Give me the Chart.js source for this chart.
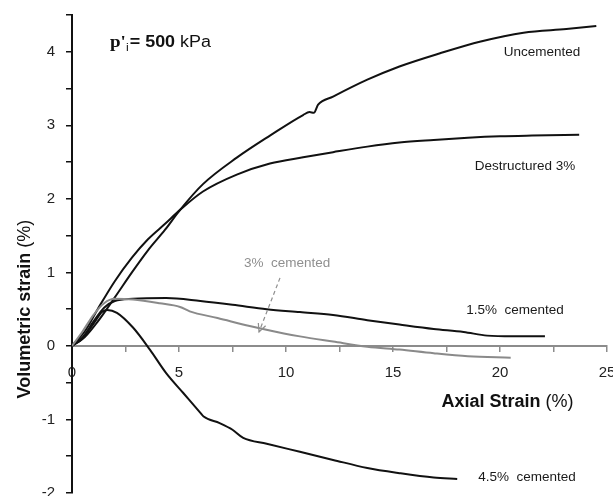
<!DOCTYPE html>
<html>
<head>
<meta charset="utf-8">
<script src="https://cdn.jsdelivr.net/npm/chart.js@4/dist/chart.umd.min.js"></script>
<style>
  html, body { margin: 0; padding: 0; background: #fff; }
  canvas { display: block; }
</style>
</head>
<body>
<canvas id="chart" width="613" height="496"></canvas>
<script>
// Volumetric strain vs axial strain, p'i = 500 kPa
const axialUncemented = [0, 0.6, 1.2, 2.0, 2.8, 3.55, 4.35, 5.05, 6.12, 7.7, 9.25, 10.8, 11.1, 11.3, 11.5, 12.2, 13.8, 15.3, 17.2, 19.1, 21.1, 23.1, 24.5];
const volUncemented   = [0, 0.12, 0.33, 0.66, 1.0, 1.3, 1.58, 1.85, 2.20, 2.56, 2.86, 3.14, 3.18, 3.17, 3.28, 3.39, 3.62, 3.80, 3.98, 4.14, 4.26, 4.31, 4.35];

const axialDestructured = [0, 0.6, 1.2, 2.0, 2.8, 3.55, 4.35, 5.05, 6.12, 7.7, 9.25, 10.8, 12.2, 13.8, 15.3, 16.9, 18.5, 20.0, 21.5, 23.7];
const volDestructured   = [0, 0.2, 0.5, 0.88, 1.2, 1.45, 1.66, 1.85, 2.10, 2.33, 2.48, 2.565, 2.635, 2.71, 2.765, 2.80, 2.83, 2.85, 2.86, 2.87];

const axialCem15 = [0, 0.5, 1.0, 1.5, 2.0, 2.85, 4.4, 6.0, 7.5, 9.1, 10.65, 12.2, 13.8, 15.3, 16.9, 18.3, 19.4, 20.6, 22.1];
const volCem15   = [0, 0.12, 0.33, 0.52, 0.61, 0.64, 0.65, 0.61, 0.56, 0.50, 0.46, 0.42, 0.35, 0.29, 0.23, 0.19, 0.14, 0.13, 0.13];

const axialCem3 = [0, 0.5, 1.0, 1.5, 2.0, 2.85, 4.1, 5.05, 5.5, 6.8, 8.3, 9.9, 10.65, 12.2, 13.8, 15.3, 16.9, 18.5, 20.5];
const volCem3   = [0, 0.2, 0.42, 0.58, 0.64, 0.63, 0.58, 0.53, 0.47, 0.38, 0.27, 0.17, 0.13, 0.06, -0.01, -0.05, -0.10, -0.14, -0.16];

const axialCem45 = [0, 0.5, 1.0, 1.4, 1.65, 2.1, 2.85, 3.64, 4.4, 5.2, 6.0, 6.15, 6.9, 7.5, 8.0, 9.1, 10.65, 12.2, 13.8, 15.3, 16.9, 18.0];
const volCem45   = [0, 0.1, 0.3, 0.46, 0.49, 0.45, 0.25, -0.05, -0.37, -0.64, -0.91, -0.96, -1.05, -1.14, -1.25, -1.33, -1.44, -1.55, -1.66, -1.73, -1.79, -1.81];

const xTickLabels = [0, 5, 10, 15, 20, 25];
const yTickLabels = [-2, -1, 0, 1, 2, 3, 4];

const pairs = (xs, ys) => xs.map((v, i) => ({ x: v, y: ys[i] }));

const SANS = '"Liberation Sans", Arial, Helvetica, sans-serif';
Chart.defaults.font.family = SANS;

function curve(xs, ys, color) {
  return {
    data: pairs(xs, ys),
    showLine: true,
    borderColor: color,
    borderWidth: 2,
    pointRadius: 0,
    fill: false,
    cubicInterpolationMode: 'monotone'
  };
}

// draws a sequence of differently styled text runs, centred on (cx, cy)
function drawRuns(ctx, runs, cx, cy) {
  let total = 0;
  runs.forEach(r => { ctx.font = r.font; total += ctx.measureText(r.text).width; });
  let px = cx - total / 2;
  ctx.textAlign = 'left';
  runs.forEach(r => {
    ctx.font = r.font;
    ctx.fillText(r.text, px, cy);
    px += ctx.measureText(r.text).width;
  });
}

const annotations = {
  id: 'annotations',
  afterDraw(chart) {
    const { ctx, scales: { x, y } } = chart;
    ctx.save();

    // curve labels
    const labels = [
      { text: 'Uncemented', at: [21.96, 3.99], color: '#1a1a1a' },
      { text: 'Destructured 3%', at: [21.17, 2.44], color: '#1a1a1a' },
      { text: '1.5%  cemented', at: [20.7, 0.49], color: '#1a1a1a' },
      { text: '4.5%  cemented', at: [21.26, -1.78], color: '#1a1a1a' },
      { text: '3%  cemented', at: [10.05, 1.13], color: '#8f8f8f' }
    ];
    ctx.textAlign = 'center';
    ctx.textBaseline = 'middle';
    ctx.font = '13.5px ' + SANS;
    labels.forEach(l => {
      ctx.fillStyle = l.color;
      ctx.fillText(l.text, x.getPixelForValue(l.at[0]), y.getPixelForValue(l.at[1]));
    });

    // dashed pointer from the 3% label to its curve
    const x0 = x.getPixelForValue(9.72), y0 = y.getPixelForValue(0.925);
    const x1 = x.getPixelForValue(8.74), y1 = y.getPixelForValue(0.19);
    ctx.strokeStyle = '#8f8f8f';
    ctx.lineWidth = 1.2;
    ctx.setLineDash([4, 3]);
    ctx.beginPath();
    ctx.moveTo(x0, y0);
    ctx.lineTo(x1, y1);
    ctx.stroke();
    ctx.setLineDash([]);
    const ang = Math.atan2(y1 - y0, x1 - x0);
    const head = 9, spread = 0.45;
    ctx.beginPath();
    ctx.moveTo(x1 - head * Math.cos(ang - spread), y1 - head * Math.sin(ang - spread));
    ctx.lineTo(x1, y1);
    ctx.lineTo(x1 - head * Math.cos(ang + spread), y1 - head * Math.sin(ang + spread));
    ctx.stroke();

    // axis titles
    ctx.fillStyle = '#111';
    ctx.textBaseline = 'middle';
    drawRuns(ctx, [
      { text: 'Axial Strain', font: 'bold 18px ' + SANS },
      { text: ' (%)', font: '18px ' + SANS }
    ], x.getPixelForValue(20.35), y.getPixelForValue(-0.76));

    ctx.save();
    ctx.translate(25, y.getPixelForValue(0.5));
    ctx.rotate(-Math.PI / 2);
    drawRuns(ctx, [
      { text: 'Volumetric strain', font: 'bold 18px ' + SANS },
      { text: ' (%)', font: '18px ' + SANS }
    ], 0, 0);
    ctx.restore();

    // confining pressure note
    ctx.textAlign = 'left';
    ctx.textBaseline = 'alphabetic';
    const bx = 110, by = 47;
    ctx.save();
    ctx.translate(bx, by);
    ctx.scale(1.12, 1);
    let px = 0;
    ctx.font = 'bold 17px "Liberation Serif", "Times New Roman", serif';
    ctx.fillText("p'", px, 0);
    px += ctx.measureText("p'").width;
    ctx.font = '11px ' + SANS;
    ctx.fillText('i', px, 4);
    px += ctx.measureText('i').width + 1;
    ctx.font = 'bold 16px ' + SANS;
    ctx.fillText('= 500', px, 0);
    px += ctx.measureText('= 500 ').width;
    ctx.font = '16px ' + SANS;
    ctx.fillText('kPa', px, 0);
    ctx.restore();

    ctx.restore();
  }
};

new Chart(document.getElementById('chart'), {
  type: 'scatter',
  data: {
    datasets: [
      curve(axialCem3, volCem3, '#8a8a8a'),
      curve(axialUncemented, volUncemented, '#111'),
      curve(axialDestructured, volDestructured, '#111'),
      curve(axialCem15, volCem15, '#111'),
      curve(axialCem45, volCem45, '#111')
    ]
  },
  options: {
    responsive: false,
    animation: false,
    devicePixelRatio: 1,
    layout: { padding: { left: 0, right: 6, top: 15, bottom: 3 } },
    plugins: { legend: { display: false }, tooltip: { enabled: false } },
    scales: {
      x: {
        type: 'linear',
        position: { y: 0 },
        min: 0,
        max: 25,
        ticks: {
          stepSize: 2.5,
          autoSkip: false,
          maxRotation: 0,
          padding: 13,
          color: '#222',
          font: { size: 15 },
          callback: v => xTickLabels.includes(v) ? String(v) : ''
        },
        grid: { drawOnChartArea: false, drawTicks: true, tickLength: 5, color: '#8c8c8c', lineWidth: 1.5 },
        border: { display: true, color: '#8c8c8c', width: 2 },
        afterFit: s => { s.paddingLeft = 0; s.paddingRight = 0; }
      },
      y: {
        type: 'linear',
        position: 'left',
        min: -2,
        max: 4.5,
        ticks: {
          stepSize: 0.5,
          autoSkip: false,
          padding: 11,
          color: '#222',
          font: { size: 15 },
          callback: v => yTickLabels.includes(v) ? String(v) : ''
        },
        grid: { drawOnChartArea: false, drawTicks: true, tickLength: 6, color: '#111', lineWidth: 1.5 },
        border: { display: true, color: '#111', width: 2 },
        afterFit: s => { s.width = 72; s.paddingTop = 0; s.paddingBottom = 0; }
      }
    }
  },
  plugins: [annotations]
});
</script>
</body>
</html>
